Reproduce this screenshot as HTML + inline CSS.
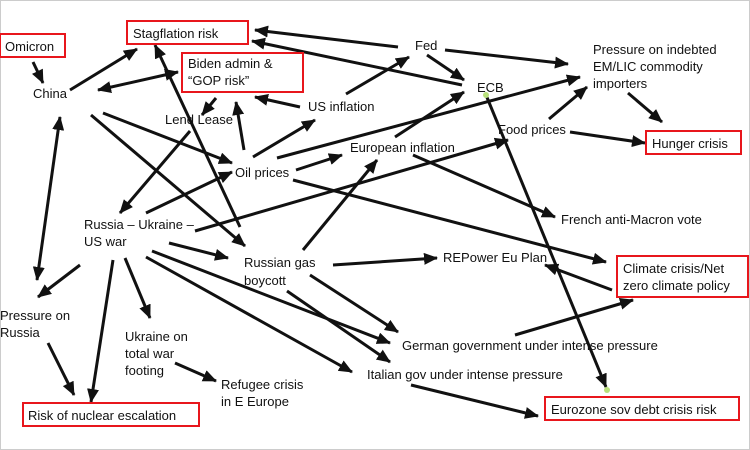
<!DOCTYPE html>
<html><head><meta charset="utf-8"><style>
html,body{margin:0;padding:0;background:#fff}
svg{display:block}
text{font-family:"Liberation Sans",sans-serif;font-size:13px;fill:#111}
.b{fill:#fff;stroke:#e8161c;stroke-width:2}
line{stroke:#111;stroke-width:3}
</style></head><body>
<svg width="750" height="450" viewBox="0 0 750 450" xmlns="http://www.w3.org/2000/svg">
<defs>
<marker id="a" markerUnits="userSpaceOnUse" markerWidth="14" markerHeight="12" refX="13" refY="6" orient="auto"><path d="M0,0 L14,6 L0,12 z" fill="#111"/></marker>
<marker id="s" markerUnits="userSpaceOnUse" markerWidth="14" markerHeight="12" refX="1" refY="6" orient="auto"><path d="M14,0 L0,6 L14,12 z" fill="#111"/></marker>
</defs>
<rect x="0.5" y="0.5" width="749" height="449" fill="#fff" stroke="#ccc"/>
<g marker-end="url(#a)">
<line x1="33" y1="62" x2="43" y2="83"/>
<line x1="70" y1="90" x2="137" y2="49"/>
<line x1="98" y1="90" x2="178" y2="72" marker-start="url(#s)"/>
<line x1="37" y1="280" x2="60" y2="117" marker-start="url(#s)"/>
<line x1="91" y1="115" x2="245" y2="246"/>
<line x1="103" y1="113" x2="232" y2="163"/>
<line x1="216" y1="98" x2="202" y2="115"/>
<line x1="244" y1="150" x2="236" y2="102"/>
<line x1="300" y1="107" x2="255" y2="97"/>
<line x1="253" y1="157" x2="315" y2="120"/>
<line x1="346" y1="94" x2="409" y2="57"/>
<line x1="398" y1="47" x2="255" y2="30"/>
<line x1="462" y1="85" x2="252" y2="41"/>
<line x1="427" y1="55" x2="464" y2="80"/>
<line x1="445" y1="50" x2="568" y2="64"/>
<line x1="277" y1="158" x2="580" y2="77"/>
<line x1="296" y1="170" x2="342" y2="155"/>
<line x1="395" y1="137" x2="464" y2="92"/>
<line x1="549" y1="119" x2="587" y2="87"/>
<line x1="628" y1="93" x2="662" y2="122"/>
<line x1="570" y1="132" x2="645" y2="143"/>
<line x1="195" y1="231" x2="508" y2="140"/>
<line x1="190" y1="131" x2="120" y2="213"/>
<line x1="146" y1="213" x2="232" y2="172"/>
<line x1="240" y1="227" x2="155" y2="45"/>
<line x1="303" y1="250" x2="377" y2="160"/>
<line x1="413" y1="155" x2="555" y2="217"/>
<line x1="293" y1="180" x2="606" y2="262"/>
<line x1="486" y1="95" x2="606" y2="387"/>
<line x1="333" y1="265" x2="437" y2="258"/>
<line x1="612" y1="290" x2="545" y2="265"/>
<line x1="515" y1="335" x2="633" y2="300"/>
<line x1="310" y1="275" x2="398" y2="332"/>
<line x1="152" y1="251" x2="390" y2="343"/>
<line x1="287" y1="291" x2="390" y2="362"/>
<line x1="146" y1="257" x2="352" y2="372"/>
<line x1="169" y1="243" x2="228" y2="258"/>
<line x1="80" y1="265" x2="38" y2="297"/>
<line x1="113" y1="260" x2="91" y2="402"/>
<line x1="125" y1="258" x2="150" y2="318"/>
<line x1="48" y1="343" x2="74" y2="395"/>
<line x1="175" y1="363" x2="216" y2="381"/>
<line x1="411" y1="385" x2="538" y2="416"/>
</g>
<circle cx="486" cy="95" r="3" fill="#b8e07a"/>
<circle cx="607" cy="390" r="3" fill="#b8e07a"/>
<rect class="b" x="0" y="34" width="65" height="23"/><text x="5" y="51">Omicron</text>
<rect class="b" x="127" y="21" width="121" height="23"/><text x="133" y="38">Stagflation risk</text>
<rect class="b" x="182" y="53" width="121" height="39"/><text x="188" y="68">Biden admin &amp;</text><text x="188" y="85">“GOP risk”</text>
<rect class="b" x="646" y="131" width="95" height="23"/><text x="652" y="148">Hunger crisis</text>
<rect class="b" x="617" y="256" width="131" height="41"/><text x="623" y="273">Climate crisis/Net</text><text x="623" y="290">zero climate policy</text>
<rect class="b" x="23" y="403" width="176" height="23"/><text x="28" y="420">Risk of nuclear escalation</text>
<rect class="b" x="545" y="397" width="194" height="23"/><text x="551" y="414">Eurozone sov debt crisis risk</text>
<text x="33" y="98">China</text>
<text x="165" y="124">Lend Lease</text>
<text x="308" y="111">US inflation</text>
<text x="415" y="50">Fed</text>
<text x="477" y="92">ECB</text>
<text x="593" y="54">Pressure on indebted</text><text x="593" y="71">EM/LIC commodity</text><text x="593" y="88">importers</text>
<text x="498" y="134">Food prices</text>
<text x="235" y="177">Oil prices</text>
<text x="350" y="152">European inflation</text>
<text x="561" y="224">French anti-Macron vote</text>
<text x="84" y="229">Russia – Ukraine –</text><text x="84" y="246">US war</text>
<text x="244" y="267">Russian gas</text><text x="244" y="285">boycott</text>
<text x="443" y="262">REPower Eu Plan</text>
<text x="0" y="320">Pressure on</text><text x="0" y="337">Russia</text>
<text x="125" y="341">Ukraine on</text><text x="125" y="358">total war</text><text x="125" y="375">footing</text>
<text x="221" y="389">Refugee crisis</text><text x="221" y="406">in E Europe</text>
<text x="402" y="350">German government under intense pressure</text>
<text x="367" y="379">Italian gov under intense pressure</text>
</svg>
</body></html>
